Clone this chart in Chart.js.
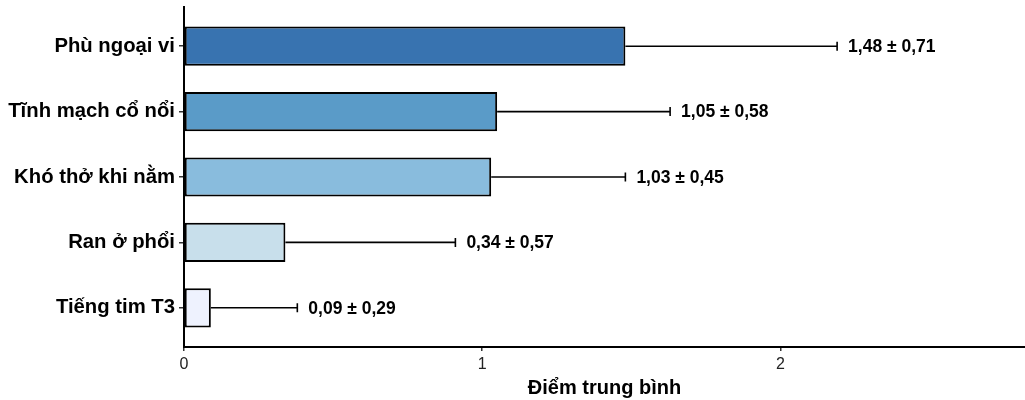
<!DOCTYPE html>
<html>
<head>
<meta charset="utf-8">
<script src="https://cdn.jsdelivr.net/npm/chart.js@4/dist/chart.umd.min.js"></script>
<style>
  html, body { margin: 0; padding: 0; background: #fff; }
  canvas { display: block; }
</style>
</head>
<body>
<canvas id="chart" width="1025" height="400"></canvas>
<script>
// symptom scores, mean and sd
const symptoms = ["Phù ngoại vi", "Tĩnh mạch cổ nổi", "Khó thở khi nằm", "Ran ở phổi", "Tiếng tim T3"];
const means = [1.48, 1.05, 1.03, 0.34, 0.09];
const sds = [0.71, 0.58, 0.45, 0.57, 0.29];
const barColors = ["#3873b0", "#5a9bc8", "#89bcdd", "#c8dfeb", "#eef2fe"];
const xTicks = [0, 1, 2];

const FONT = "'Liberation Sans', Arial, sans-serif";

// error bar (mean -> mean + sd) with cap, plus the value text
const errorBars = {
  id: "errorBars",
  afterDatasetsDraw(chart) {
    const { ctx, scales: { x, y } } = chart;
    ctx.save();
    ctx.strokeStyle = "#000";
    ctx.lineWidth = 1.6;
    ctx.fillStyle = "#000";
    ctx.font = "bold 17.5px " + FONT;
    ctx.textBaseline = "middle";
    means.forEach((m, i) => {
      const cy = y.getPixelForValue(i);
      const x0 = x.getPixelForValue(m);
      const x1 = x.getPixelForValue(m + sds[i]);
      ctx.beginPath();
      ctx.moveTo(x0, cy);
      ctx.lineTo(x1, cy);
      ctx.moveTo(x1, cy - 4.5);
      ctx.lineTo(x1, cy + 4.5);
      ctx.stroke();
      const txt = m.toFixed(2).replace(".", ",") + " ± " + sds[i].toFixed(2).replace(".", ",");
      ctx.fillText(txt, x1 + 11, cy + 1);
    });
    ctx.restore();
  }
};

new Chart(document.getElementById("chart"), {
  type: "bar",
  data: {
    datasets: [{
      data: means.map((m, i) => ({ x: m, y: i })),
      backgroundColor: barColors,
      borderColor: "#000",
      borderWidth: 2,
      borderSkipped: false,
      categoryPercentage: 1,
      barPercentage: 0.6
    }]
  },
  options: {
    indexAxis: "y",
    responsive: false,
    animation: false,
    layout: { padding: { top: 7, right: 0, left: 0, bottom: 0 } },
    plugins: { legend: { display: false }, tooltip: { enabled: false } },
    scales: {
      x: {
        type: "linear",
        min: 0,
        max: 2.82,
        afterBuildTicks: s => { s.ticks = xTicks.map(v => ({ value: v })); },
        afterFit: s => { s.height = 53; s.paddingLeft = 0; s.paddingRight = 0; },
        border: { display: true, color: "#000", width: 2 },
        grid: { drawOnChartArea: false, drawTicks: true, tickLength: 4, color: "#333", lineWidth: 1.5 },
        ticks: { color: "#222", font: { family: FONT, size: 16 }, padding: 4, autoSkip: false, maxRotation: 0 },
        title: {
          display: true,
          text: "Điểm trung bình",
          color: "#000",
          font: { family: FONT, size: 20, weight: "bold" },
          padding: { top: 0, bottom: 0 }
        }
      },
      y: {
        type: "linear",
        reverse: true,
        offset: false,
        min: -0.6,
        max: 4.6,
        afterBuildTicks: s => { s.ticks = symptoms.map((c, i) => ({ value: i })); },
        afterFit: s => { s.width = 184; s.paddingTop = 0; s.paddingBottom = 0; },
        border: { display: true, color: "#000", width: 2 },
        grid: { offset: false, drawOnChartArea: false, drawTicks: true, tickLength: 5, color: "#333", lineWidth: 1.5 },
        ticks: {
          color: "#000",
          font: { family: FONT, size: 20.3, weight: "bold" },
          padding: 4,
          autoSkip: false,
          callback: v => symptoms[v]
        }
      }
    }
  },
  plugins: [errorBars]
});
</script>
</body>
</html>
